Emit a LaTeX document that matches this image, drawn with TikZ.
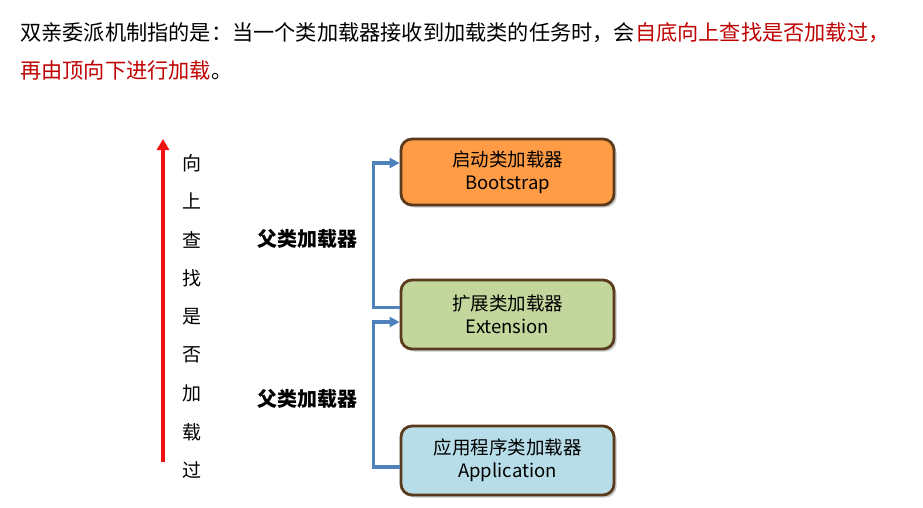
\documentclass[tikz,border=0pt]{standalone}
\usepackage{fontspec}
\setmainfont{Noto Sans CJK SC}
\usetikzlibrary{arrows.meta,shadows}
\definecolor{hdrred}{HTML}{C00000}
\definecolor{bootfill}{HTML}{FF9C45}
\definecolor{extfill}{HTML}{C3D69B}
\definecolor{appfill}{HTML}{B7DDE8}
\definecolor{boxline}{HTML}{5A3B1C}
\definecolor{linkblue}{HTML}{4F81BD}
\definecolor{uparrow}{HTML}{F01010}
\tikzset{
  loaderbox/.style={draw=boxline, line width=2.8pt, rounded corners=11pt,
    minimum width=213pt, minimum height=66pt, align=center, inner sep=0pt,
    font=\fontsize{18.5}{23}\selectfont,
    drop shadow={shadow xshift=2.5pt, shadow yshift=-2.5pt, opacity=0.35, fill=black!60}},
  link/.style={draw=linkblue, line width=3.3pt, -{Triangle[length=10pt,width=10pt]}},
  vchar/.style={font=\fontsize{19}{19}\selectfont, inner sep=0pt},
  parentlbl/.style={font=\fontsize{20}{20}\selectfont\bfseries, inner sep=0pt},
  hdr/.style={font=\fontsize{21.2}{24}\selectfont, inner sep=0pt, anchor=west}
}
\begin{document}
\begin{tikzpicture}[x=1pt,y=-1pt]
\useasboundingbox[fill=white] (0,0) rectangle (923,507);

\node[hdr] (h1) at (20,33) {双亲委派机制指的是：当一个类加载器接收到加载类的任务时，会\textcolor{hdrred}{自底向上查找是否加载过，}};
\node[hdr] (h2) at (20,70) {\textcolor{hdrred}{再由顶向下进行加载}。};

\node[loaderbox, fill=bootfill] (boot) at (507.5,172) {启动类加载器\\Bootstrap};
\node[loaderbox, fill=extfill, minimum height=69pt] (ext) at (507.5,314.5) {扩展类加载器\\Extension};
\node[loaderbox, fill=appfill, minimum height=69pt] (app) at (507.5,460.5) {应用程序类加载器\\Application};

\draw[link] ([yshift=7pt]ext.west) -- ++(-26,0) |- ([yshift=9pt]boot.west);
\draw[link] ([yshift=-6.5pt]app.west) -- ++(-26,0) |- ([yshift=-7.5pt]ext.west);

\node[parentlbl] (p1) at (307,239) {父类加载器};
\node[parentlbl] (p2) at (307,399) {父类加载器};

\coordinate (rb) at (163,462);
\coordinate (rt) at (163,139);
\draw[draw=uparrow, line width=3.8pt, -{Triangle[length=11pt,width=12pt]}] (rb) -- (rt);

\foreach \c [count=\i from 0] in {向,上,查,找,是,否,加,载,过}
  \node[vchar] (v\i) at (192,163+38.4*\i) {\c};
\end{tikzpicture}
\end{document}
